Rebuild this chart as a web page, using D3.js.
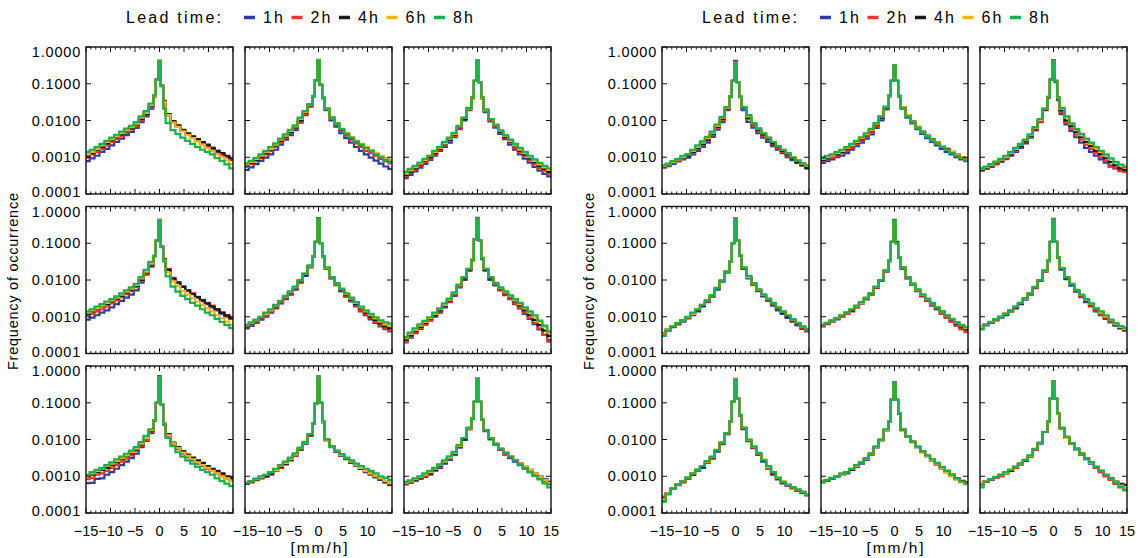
<!DOCTYPE html>
<html>
<head>
<meta charset="utf-8">
<script src="https://cdn.jsdelivr.net/npm/d3@7"></script>
<style>
  body { margin: 0; background: #fff; }
  svg { display: block; font-family: "Liberation Sans", Arial, sans-serif; }
</style>
</head>
<body>
<script>
// lead times and their colours
var leadTimes = ["1h", "2h", "4h", "6h", "8h"];
var leadColors = ["#2f3d9e", "#e5392b", "#1a1a1a", "#f6b320", "#1fae4b"];

// histogram bin edges [mm/h] (0.5 wide near zero, 1 wide in the tails)
var binEdges = [-15, -14.25, -13.25, -12.25, -11.25, -10.25, -9.25, -8.25, -7.25, -6.25, -5.25, -4.25, -3.25, -2.25,
  -1.25, -0.75, -0.25, 0.25, 0.75, 1.25,
  2.25, 3.25, 4.25, 5.25, 6.25, 7.25, 8.25, 9.25, 10.25, 11.25, 12.25, 13.25, 14.25, 15];

var xTicks = [-15, -10, -5, 0, 5, 10, 15];
var xTickLabels = ["\u221215", "\u221210", "\u22125", "0", "5", "10", "15"];
var yTicks = [1, 0.1, 0.01, 0.001, 0.0001];
var yTickLabels = ["1.0000", "0.1000", "0.0100", "0.0010", "0.0001"];

// frequency of occurrence per bin, one row per lead time (1h, 2h, 4h, 6h, 8h)
// left block
var L00 = [
  [0.00078,0.00093,0.0011,0.0014,0.0017,0.0021,0.0026,0.0032,0.004,0.0049,0.0063,0.009,0.013, 0.021,0.045,0.13,0.41,0.09,0.033,0.014, 0.0092,0.007,0.0053,0.0042,0.0035,0.0029,0.0024,0.002,0.0017,0.0014,0.0012,0.001,0.00085],
  [0.00098,0.0012,0.0014,0.0017,0.0021,0.0026,0.0031,0.0038,0.0047,0.0057,0.0072,0.01,0.014, 0.023,0.046,0.13,0.42,0.088,0.033,0.014, 0.0094,0.0072,0.0055,0.0043,0.0036,0.003,0.0025,0.0021,0.0018,0.0015,0.0012,0.001,0.00086],
  [0.0011,0.0013,0.0016,0.0019,0.0024,0.0029,0.0035,0.0042,0.0051,0.0062,0.0078,0.011,0.015, 0.025,0.047,0.13,0.42,0.088,0.034,0.015, 0.0096,0.0074,0.0056,0.0045,0.0037,0.0031,0.0026,0.0022,0.0018,0.0015,0.0013,0.0011,0.00088],
  [0.0012,0.0014,0.0017,0.0021,0.0026,0.0031,0.0037,0.0045,0.0054,0.0066,0.0082,0.012,0.016, 0.026,0.047,0.13,0.41,0.087,0.032,0.014, 0.0088,0.0067,0.0051,0.004,0.0033,0.0027,0.0022,0.0018,0.0015,0.0012,0.001,0.00082,0.00066],
  [0.0014,0.0016,0.0019,0.0023,0.0028,0.0034,0.0041,0.005,0.006,0.0072,0.009,0.013,0.018, 0.029,0.048,0.13,0.4,0.085,0.021,0.0085, 0.0055,0.0043,0.0034,0.0028,0.0023,0.0019,0.0016,0.0014,0.0012,0.00095,0.0008,0.00064,0.0005]
];
var L01 = [
  [0.00045,0.00053,0.00065,0.0008,0.00098,0.0012,0.0016,0.0022,0.003,0.004,0.0055,0.0088,0.014, 0.024,0.045,0.125,0.45,0.093,0.04,0.019, 0.01,0.0068,0.0045,0.0033,0.0025,0.0019,0.0015,0.0012,0.00098,0.00081,0.00067,0.00056,0.00048],
  [0.00055,0.00065,0.00078,0.00095,0.0012,0.0015,0.0019,0.0025,0.0034,0.0045,0.006,0.0093,0.015, 0.025,0.045,0.125,0.44,0.093,0.041,0.02, 0.011,0.0076,0.0052,0.0039,0.003,0.0024,0.0019,0.0015,0.0013,0.0011,0.0009,0.00077,0.00068],
  [0.0006,0.0007,0.00085,0.001,0.0013,0.0016,0.0021,0.0028,0.0037,0.0049,0.0065,0.01,0.016, 0.026,0.046,0.125,0.43,0.093,0.042,0.021, 0.012,0.0082,0.0057,0.0043,0.0033,0.0027,0.0022,0.0018,0.0015,0.0012,0.001,0.00088,0.00078],
  [0.00064,0.00075,0.0009,0.0011,0.0014,0.0017,0.0022,0.003,0.0039,0.0052,0.0069,0.011,0.017, 0.027,0.046,0.125,0.43,0.092,0.042,0.021, 0.012,0.0084,0.0059,0.0045,0.0035,0.0028,0.0023,0.0019,0.0016,0.0013,0.0011,0.00095,0.00085],
  [0.00068,0.0008,0.00097,0.0012,0.0015,0.0019,0.0024,0.0032,0.0042,0.0056,0.0074,0.012,0.018, 0.028,0.047,0.125,0.42,0.092,0.042,0.021, 0.012,0.0084,0.0058,0.0044,0.0034,0.0027,0.0022,0.0018,0.0015,0.0012,0.001,0.00085,0.00072]
];
var L02 = [
  [0.00027,0.00033,0.00041,0.00052,0.00066,0.00085,0.0011,0.0015,0.0019,0.0025,0.0035,0.0058,0.01, 0.019,0.04,0.12,0.42,0.11,0.04,0.017, 0.0095,0.0064,0.0043,0.0031,0.0022,0.0016,0.0012,0.00092,0.00071,0.00055,0.00043,0.00035,0.0003],
  [0.0003,0.00037,0.00046,0.00058,0.00073,0.00093,0.0012,0.0016,0.0021,0.0028,0.0038,0.0062,0.011, 0.02,0.041,0.12,0.44,0.11,0.041,0.018, 0.01,0.0069,0.0047,0.0034,0.0025,0.0018,0.0014,0.0011,0.00083,0.00065,0.00051,0.00042,0.00036],
  [0.00033,0.0004,0.0005,0.00063,0.00079,0.001,0.0013,0.0017,0.0023,0.003,0.0041,0.0066,0.011, 0.021,0.041,0.12,0.44,0.11,0.042,0.019, 0.011,0.0073,0.005,0.0036,0.0027,0.002,0.0015,0.0012,0.00093,0.00073,0.00058,0.00048,0.0004],
  [0.00036,0.00044,0.00054,0.00067,0.00084,0.0011,0.0014,0.0018,0.0024,0.0032,0.0043,0.0069,0.012, 0.021,0.042,0.12,0.43,0.11,0.042,0.019, 0.011,0.0075,0.0052,0.0038,0.0028,0.0021,0.0016,0.0013,0.001,0.0008,0.00064,0.00053,0.00045],
  [0.0004,0.00048,0.00058,0.00072,0.0009,0.0011,0.0015,0.0019,0.0026,0.0034,0.0046,0.0072,0.012, 0.022,0.043,0.12,0.42,0.11,0.043,0.02, 0.011,0.0077,0.0054,0.004,0.003,0.0023,0.0018,0.0014,0.0011,0.00088,0.0007,0.00058,0.0005]
];
var L10 = [
  [0.00083,0.00095,0.0011,0.0013,0.0015,0.0018,0.0022,0.0027,0.0033,0.004,0.0052,0.0085,0.014, 0.023,0.044,0.12,0.43,0.081,0.037,0.019, 0.011,0.0085,0.0065,0.0051,0.0041,0.0033,0.0027,0.0022,0.0018,0.0015,0.0012,0.001,0.0009],
  [0.0011,0.0012,0.0014,0.0016,0.0019,0.0023,0.0028,0.0034,0.0041,0.005,0.0064,0.0095,0.015, 0.025,0.045,0.12,0.43,0.08,0.037,0.02, 0.0115,0.0088,0.0067,0.0053,0.0043,0.0035,0.0029,0.0024,0.002,0.0016,0.0013,0.0011,0.00095],
  [0.0012,0.0014,0.0016,0.0019,0.0022,0.0026,0.0031,0.0037,0.0045,0.0055,0.0069,0.01,0.016, 0.026,0.045,0.12,0.42,0.08,0.036,0.019, 0.011,0.0085,0.0065,0.0052,0.0042,0.0034,0.0028,0.0023,0.0019,0.0016,0.0013,0.0011,0.0009],
  [0.0013,0.0015,0.0017,0.002,0.0024,0.0028,0.0033,0.004,0.0048,0.0058,0.0073,0.011,0.017, 0.028,0.045,0.12,0.42,0.079,0.034,0.016, 0.0092,0.0068,0.0051,0.004,0.0032,0.0026,0.0021,0.0017,0.0014,0.0011,0.00091,0.00074,0.0006],
  [0.0014,0.0016,0.0019,0.0022,0.0026,0.003,0.0036,0.0043,0.0052,0.0063,0.0079,0.012,0.019, 0.031,0.046,0.12,0.41,0.078,0.032,0.0125, 0.0066,0.0048,0.0037,0.003,0.0024,0.002,0.0016,0.0013,0.0011,0.00088,0.00072,0.00059,0.00049]
];
var L11 = [
  [0.00048,0.00056,0.00068,0.00084,0.001,0.0013,0.0017,0.0023,0.003,0.004,0.0055,0.0085,0.013, 0.022,0.043,0.11,0.48,0.1,0.042,0.02, 0.011,0.0072,0.0049,0.0035,0.0026,0.0019,0.0014,0.0011,0.00085,0.00068,0.00055,0.00046,0.0004],
  [0.00052,0.0006,0.00073,0.0009,0.0011,0.0014,0.0018,0.0024,0.0032,0.0043,0.0058,0.009,0.014, 0.023,0.044,0.11,0.47,0.1,0.043,0.021, 0.011,0.0075,0.0051,0.0037,0.0027,0.002,0.0015,0.0012,0.00093,0.00072,0.00058,0.00048,0.00041],
  [0.00055,0.00064,0.00077,0.00094,0.0012,0.0015,0.0019,0.0025,0.0034,0.0045,0.006,0.0093,0.014, 0.024,0.044,0.11,0.47,0.1,0.043,0.021, 0.012,0.0078,0.0054,0.0039,0.0029,0.0022,0.0017,0.0013,0.001,0.00082,0.00066,0.00055,0.00048],
  [0.00058,0.00067,0.0008,0.00098,0.0012,0.0015,0.002,0.0026,0.0035,0.0047,0.0063,0.0097,0.015, 0.024,0.044,0.11,0.46,0.1,0.043,0.021, 0.012,0.008,0.0056,0.0041,0.0031,0.0024,0.0018,0.0014,0.0011,0.0009,0.00073,0.00062,0.00056],
  [0.0006,0.0007,0.00084,0.001,0.0013,0.0016,0.0021,0.0027,0.0037,0.0049,0.0066,0.01,0.015, 0.025,0.045,0.11,0.46,0.1,0.044,0.022, 0.012,0.0082,0.0058,0.0043,0.0033,0.0025,0.0019,0.0015,0.0012,0.00097,0.0008,0.0007,0.00065]
];
var L12 = [
  [0.0002,0.00027,0.00036,0.00047,0.00061,0.00078,0.001,0.0013,0.0018,0.0025,0.0037,0.0063,0.01, 0.018,0.034,0.13,0.49,0.12,0.038,0.018, 0.01,0.0071,0.0052,0.0039,0.003,0.0022,0.0017,0.0012,0.00087,0.00063,0.00045,0.00032,0.00023],
  [0.00021,0.00028,0.00038,0.0005,0.00064,0.00082,0.0011,0.0014,0.0019,0.0026,0.0039,0.0066,0.011, 0.019,0.035,0.13,0.48,0.12,0.039,0.019, 0.011,0.0074,0.0054,0.0041,0.0031,0.0023,0.0017,0.0013,0.00093,0.00068,0.00048,0.00032,0.00021],
  [0.00024,0.00031,0.00041,0.00053,0.00068,0.00087,0.0011,0.0015,0.002,0.0028,0.0041,0.0069,0.011, 0.019,0.035,0.13,0.48,0.12,0.039,0.019, 0.011,0.0077,0.0057,0.0044,0.0034,0.0026,0.002,0.0015,0.0011,0.00082,0.00059,0.00042,0.0003],
  [0.00026,0.00034,0.00044,0.00057,0.00072,0.00092,0.0012,0.0016,0.0021,0.0029,0.0043,0.0071,0.012, 0.02,0.036,0.13,0.47,0.12,0.04,0.02, 0.012,0.0081,0.006,0.0046,0.0036,0.0028,0.0022,0.0017,0.0013,0.00097,0.00071,0.00052,0.00037],
  [0.00028,0.00037,0.00048,0.00062,0.00077,0.00097,0.0013,0.0017,0.0023,0.0031,0.0046,0.0075,0.012, 0.02,0.036,0.13,0.47,0.12,0.04,0.02, 0.012,0.0084,0.0063,0.0049,0.0038,0.003,0.0024,0.0018,0.0014,0.0011,0.00078,0.00057,0.0004]
];
var L20 = [
  [0.00065,0.00066,0.00085,0.00087,0.0011,0.0013,0.0016,0.002,0.0025,0.0031,0.0041,0.0062,0.0091, 0.015,0.032,0.1,0.52,0.09,0.026,0.012, 0.0075,0.0055,0.0041,0.0033,0.0027,0.0022,0.0019,0.0016,0.0014,0.0012,0.001,0.00088,0.00075],
  [0.00083,0.0009,0.0011,0.0012,0.0014,0.0017,0.002,0.0025,0.003,0.0037,0.0049,0.0068,0.0098, 0.016,0.032,0.1,0.51,0.09,0.026,0.013, 0.0078,0.0058,0.0044,0.0035,0.0029,0.0024,0.0021,0.0018,0.0015,0.0013,0.0011,0.00095,0.00082],
  [0.001,0.0011,0.0013,0.0015,0.0017,0.002,0.0024,0.0029,0.0035,0.0042,0.0053,0.0073,0.011, 0.017,0.033,0.1,0.51,0.09,0.027,0.014, 0.0082,0.0062,0.0048,0.0039,0.0032,0.0027,0.0023,0.0019,0.0016,0.0014,0.0012,0.001,0.0009],
  [0.001,0.0012,0.0014,0.0016,0.0019,0.0022,0.0026,0.0031,0.0037,0.0045,0.0056,0.0077,0.011, 0.018,0.033,0.1,0.5,0.09,0.026,0.013, 0.0078,0.0058,0.0044,0.0036,0.0029,0.0024,0.002,0.0017,0.0014,0.0012,0.001,0.00087,0.00075],
  [0.0011,0.0013,0.0015,0.0017,0.002,0.0024,0.0029,0.0034,0.0041,0.005,0.0062,0.0085,0.0125, 0.019,0.033,0.1,0.5,0.09,0.025,0.011, 0.0066,0.0045,0.0034,0.0027,0.0022,0.0018,0.0015,0.0013,0.0011,0.00088,0.00074,0.00063,0.00054]
];
var L21 = [
  [0.00062,0.00068,0.00078,0.00088,0.00098,0.0011,0.0014,0.0017,0.0021,0.0027,0.0036,0.0052,0.0077, 0.013,0.027,0.094,0.52,0.1,0.029,0.0095, 0.0062,0.0046,0.0036,0.0029,0.0023,0.0019,0.0016,0.0013,0.0011,0.00093,0.0008,0.00068,0.00058],
  [0.00064,0.0007,0.0008,0.0009,0.001,0.0012,0.0014,0.0017,0.0022,0.0028,0.0037,0.0054,0.008, 0.013,0.027,0.094,0.5,0.1,0.03,0.0098, 0.0063,0.0047,0.0037,0.003,0.0024,0.002,0.0016,0.0014,0.0012,0.00098,0.00084,0.00072,0.00062],
  [0.00064,0.0007,0.00081,0.00092,0.001,0.0012,0.0015,0.0018,0.0022,0.0028,0.0038,0.0055,0.008, 0.013,0.028,0.095,0.5,0.1,0.03,0.01, 0.0065,0.0048,0.0038,0.003,0.0024,0.002,0.0016,0.0014,0.0012,0.00097,0.00082,0.00069,0.00058],
  [0.00066,0.00072,0.00083,0.00095,0.0011,0.0013,0.0015,0.0019,0.0023,0.0029,0.0039,0.0057,0.0082, 0.014,0.028,0.096,0.49,0.1,0.03,0.0098, 0.0065,0.0049,0.0038,0.0031,0.0025,0.002,0.0017,0.0014,0.0012,0.001,0.00087,0.00074,0.00064],
  [0.00066,0.00074,0.00086,0.001,0.0011,0.0013,0.0016,0.002,0.0025,0.0032,0.0042,0.006,0.0086, 0.014,0.028,0.096,0.49,0.1,0.031,0.01, 0.0066,0.005,0.004,0.0032,0.0027,0.0022,0.0019,0.0016,0.0014,0.0012,0.001,0.0009,0.0008]
];
var L22 = [
  [0.0006,0.00066,0.00075,0.00085,0.00096,0.0011,0.0014,0.0017,0.0022,0.0028,0.0038,0.006,0.0098, 0.019,0.037,0.105,0.47,0.105,0.034,0.017, 0.01,0.0072,0.0052,0.0039,0.0031,0.0025,0.002,0.0016,0.0013,0.0011,0.00088,0.00073,0.00062],
  [0.00062,0.00068,0.00077,0.00088,0.001,0.0012,0.0014,0.0018,0.0023,0.0029,0.0039,0.0062,0.01, 0.019,0.037,0.105,0.47,0.105,0.035,0.018, 0.011,0.0074,0.0054,0.0041,0.0033,0.0026,0.0021,0.0017,0.0014,0.0011,0.00092,0.00077,0.00066],
  [0.00064,0.0007,0.0008,0.00092,0.0011,0.0012,0.0015,0.0019,0.0024,0.0031,0.0041,0.0065,0.01, 0.02,0.038,0.106,0.46,0.106,0.035,0.018, 0.011,0.0076,0.0056,0.0043,0.0034,0.0027,0.0022,0.0018,0.0015,0.0012,0.00098,0.00082,0.0007],
  [0.00066,0.00072,0.00083,0.00096,0.0011,0.0013,0.0016,0.002,0.0025,0.0032,0.0043,0.0067,0.011, 0.02,0.038,0.107,0.46,0.107,0.035,0.018, 0.011,0.0077,0.0057,0.0044,0.0035,0.0028,0.0022,0.0018,0.0015,0.0012,0.00095,0.00078,0.00066],
  [0.0007,0.00077,0.00088,0.001,0.0012,0.0014,0.0017,0.0021,0.0027,0.0035,0.0046,0.007,0.011, 0.021,0.039,0.108,0.45,0.108,0.035,0.018, 0.011,0.0076,0.0056,0.0043,0.0034,0.0027,0.0021,0.0017,0.0013,0.001,0.00082,0.00064,0.0005]
];
// right block
var R00 = [
  [0.00052,0.00057,0.00066,0.00077,0.00088,0.00098,0.0012,0.0015,0.0019,0.0025,0.0036,0.0056,0.009, 0.019,0.044,0.12,0.42,0.11,0.043,0.019, 0.0092,0.0064,0.0045,0.0034,0.0026,0.002,0.0016,0.0013,0.001,0.00084,0.0007,0.00061,0.00054],
  [0.00054,0.0006,0.0007,0.0008,0.00092,0.0011,0.0013,0.0017,0.0021,0.0028,0.004,0.0063,0.01, 0.02,0.045,0.12,0.41,0.11,0.044,0.021, 0.011,0.0074,0.0052,0.0039,0.003,0.0023,0.0018,0.0014,0.0011,0.00091,0.00075,0.00063,0.00055],
  [0.00055,0.00062,0.00072,0.00083,0.00096,0.0011,0.0014,0.0018,0.0023,0.003,0.0043,0.0067,0.011, 0.021,0.045,0.12,0.4,0.11,0.045,0.022, 0.012,0.0079,0.0056,0.0042,0.0032,0.0024,0.0019,0.0015,0.0012,0.00093,0.00074,0.0006,0.0005],
  [0.00057,0.00064,0.00074,0.00086,0.001,0.0012,0.0015,0.0019,0.0025,0.0033,0.0046,0.0071,0.012, 0.022,0.046,0.12,0.39,0.11,0.045,0.023, 0.013,0.0083,0.006,0.0045,0.0034,0.0026,0.002,0.0016,0.0013,0.001,0.00082,0.00067,0.00058],
  [0.0006,0.00067,0.00078,0.0009,0.0011,0.0012,0.0016,0.0021,0.0027,0.0036,0.005,0.0077,0.0125, 0.023,0.046,0.12,0.39,0.11,0.045,0.023, 0.014,0.0085,0.0061,0.0045,0.0034,0.0026,0.002,0.0016,0.0013,0.001,0.00082,0.00069,0.0006]
];
var R01 = [
  [0.0007,0.00078,0.00088,0.001,0.0011,0.0013,0.0016,0.002,0.0025,0.0032,0.0042,0.0063,0.01, 0.02,0.045,0.12,0.3,0.12,0.045,0.021, 0.012,0.0083,0.0058,0.0043,0.0033,0.0026,0.0021,0.0017,0.0014,0.0012,0.001,0.00088,0.00078],
  [0.00078,0.00087,0.00098,0.0011,0.0013,0.0015,0.0018,0.0022,0.0028,0.0036,0.0047,0.0069,0.011, 0.021,0.046,0.12,0.31,0.12,0.046,0.022, 0.013,0.0088,0.0062,0.0046,0.0036,0.0028,0.0023,0.0019,0.0016,0.0013,0.0011,0.00096,0.00085],
  [0.00085,0.00095,0.0011,0.0012,0.0014,0.0017,0.002,0.0025,0.0031,0.004,0.0052,0.0076,0.012, 0.022,0.047,0.12,0.32,0.12,0.047,0.023, 0.014,0.0095,0.0067,0.005,0.0039,0.0031,0.0025,0.002,0.0017,0.0014,0.0012,0.001,0.0009],
  [0.0009,0.001,0.0011,0.0013,0.0015,0.0018,0.0021,0.0026,0.0033,0.0042,0.0055,0.008,0.013, 0.023,0.047,0.12,0.32,0.12,0.047,0.023, 0.014,0.0093,0.0066,0.0049,0.0038,0.003,0.0024,0.002,0.0016,0.0014,0.0012,0.001,0.00088],
  [0.00095,0.0011,0.0012,0.0014,0.0016,0.0019,0.0023,0.0028,0.0035,0.0045,0.0059,0.0085,0.013, 0.024,0.048,0.12,0.32,0.12,0.046,0.022, 0.013,0.009,0.0064,0.0048,0.0037,0.0029,0.0023,0.0019,0.0016,0.0013,0.0011,0.00095,0.00082]
];
var R02 = [
  [0.00043,0.00048,0.00055,0.00064,0.00075,0.00089,0.0011,0.0014,0.0018,0.0024,0.0034,0.0054,0.009, 0.019,0.042,0.13,0.43,0.11,0.036,0.015, 0.0078,0.0052,0.0035,0.0025,0.0018,0.0014,0.0011,0.00088,0.00071,0.00059,0.0005,0.00044,0.0004],
  [0.00045,0.0005,0.00057,0.00066,0.00078,0.00093,0.0012,0.0015,0.0019,0.0026,0.0036,0.0057,0.0095, 0.02,0.043,0.13,0.42,0.115,0.038,0.017, 0.0088,0.006,0.0041,0.003,0.0022,0.0017,0.0013,0.001,0.00078,0.00055,0.0005,0.00042,0.0004],
  [0.00046,0.00052,0.0006,0.0007,0.00082,0.00098,0.0012,0.0016,0.002,0.0027,0.0038,0.006,0.0098, 0.02,0.043,0.13,0.42,0.12,0.04,0.019, 0.01,0.007,0.0048,0.0035,0.0026,0.002,0.0015,0.0012,0.00093,0.00074,0.0006,0.0005,0.00045],
  [0.00048,0.00054,0.00062,0.00073,0.00086,0.001,0.0013,0.0017,0.0022,0.0029,0.004,0.0063,0.01, 0.021,0.044,0.13,0.41,0.12,0.042,0.021, 0.012,0.0079,0.0055,0.004,0.003,0.0023,0.0018,0.0014,0.0011,0.00088,0.00071,0.0006,0.00052],
  [0.0005,0.00056,0.00065,0.00076,0.0009,0.0011,0.0014,0.0018,0.0023,0.003,0.0042,0.0066,0.011, 0.021,0.044,0.13,0.4,0.12,0.043,0.022, 0.013,0.0083,0.0058,0.0043,0.0032,0.0025,0.0019,0.0015,0.0012,0.00094,0.00075,0.00063,0.00055]
];
var R10 = [
  [0.00034,0.00042,0.00052,0.00062,0.00074,0.0009,0.0011,0.0014,0.0019,0.0025,0.0035,0.0055,0.009, 0.016,0.031,0.1,0.47,0.12,0.045,0.02, 0.011,0.0074,0.005,0.0036,0.0027,0.002,0.0015,0.0012,0.00093,0.00073,0.00058,0.00047,0.0004],
  [0.00036,0.00044,0.00054,0.00064,0.00077,0.00093,0.0012,0.0015,0.002,0.0026,0.0036,0.0057,0.0093, 0.016,0.031,0.1,0.46,0.12,0.046,0.021, 0.012,0.0077,0.0052,0.0038,0.0028,0.0021,0.0016,0.0013,0.001,0.00078,0.00062,0.0005,0.00042],
  [0.00036,0.00045,0.00055,0.00066,0.00079,0.00096,0.0012,0.0015,0.002,0.0027,0.0037,0.0058,0.0095, 0.017,0.032,0.1,0.46,0.12,0.046,0.021, 0.012,0.0078,0.0053,0.0039,0.0029,0.0022,0.0017,0.0013,0.001,0.0008,0.00064,0.00052,0.00044],
  [0.00035,0.00045,0.00056,0.00067,0.0008,0.00098,0.0012,0.0016,0.0021,0.0028,0.0038,0.006,0.0097, 0.017,0.032,0.1,0.45,0.12,0.047,0.022, 0.012,0.008,0.0055,0.004,0.003,0.0023,0.0018,0.0014,0.0011,0.00084,0.00067,0.00054,0.00045],
  [0.0003,0.00042,0.00055,0.00067,0.00081,0.001,0.0013,0.0016,0.0021,0.0028,0.0039,0.0061,0.0098, 0.017,0.032,0.1,0.45,0.12,0.047,0.022, 0.013,0.0082,0.0056,0.0041,0.0031,0.0024,0.0018,0.0014,0.0011,0.00086,0.00068,0.00055,0.00046]
];
var R11 = [
  [0.00055,0.00063,0.00073,0.00085,0.001,0.0012,0.0014,0.0018,0.0023,0.003,0.004,0.0061,0.0095, 0.017,0.032,0.11,0.43,0.1,0.04,0.02, 0.011,0.0073,0.005,0.0036,0.0027,0.002,0.0016,0.0012,0.00095,0.00075,0.0006,0.0005,0.00043],
  [0.00056,0.00064,0.00075,0.00087,0.001,0.0012,0.0015,0.0018,0.0023,0.003,0.0041,0.0062,0.0097, 0.017,0.033,0.11,0.42,0.1,0.041,0.021, 0.011,0.0074,0.0051,0.0037,0.0028,0.0021,0.0016,0.0012,0.00094,0.00072,0.00056,0.00045,0.00038],
  [0.00058,0.00066,0.00077,0.0009,0.0011,0.0013,0.0015,0.0019,0.0024,0.0031,0.0042,0.0064,0.01, 0.018,0.033,0.11,0.4,0.11,0.042,0.022, 0.012,0.0078,0.0054,0.0039,0.003,0.0023,0.0017,0.0014,0.0011,0.00083,0.00066,0.00055,0.00048],
  [0.00059,0.00067,0.00078,0.00092,0.0011,0.0013,0.0016,0.0019,0.0024,0.0032,0.0043,0.0065,0.01, 0.018,0.033,0.11,0.4,0.1,0.042,0.022, 0.012,0.0079,0.0055,0.004,0.003,0.0023,0.0018,0.0014,0.0011,0.00086,0.00069,0.00058,0.0005],
  [0.0006,0.00068,0.0008,0.00094,0.0011,0.0013,0.0016,0.002,0.0025,0.0033,0.0044,0.0066,0.01, 0.018,0.034,0.11,0.4,0.1,0.042,0.022, 0.012,0.008,0.0056,0.0041,0.0031,0.0024,0.0018,0.0014,0.0011,0.00088,0.00071,0.0006,0.00052]
];
var R12 = [
  [0.0005,0.00058,0.00068,0.0008,0.00095,0.0011,0.0014,0.0017,0.0022,0.0029,0.004,0.006,0.0095, 0.017,0.032,0.11,0.46,0.11,0.04,0.019, 0.0105,0.007,0.0048,0.0034,0.0025,0.0019,0.0014,0.0011,0.00087,0.0007,0.00057,0.00048,0.00042],
  [0.00052,0.0006,0.0007,0.00082,0.00097,0.0012,0.0014,0.0018,0.0023,0.003,0.0041,0.0062,0.0097, 0.017,0.033,0.11,0.45,0.11,0.041,0.02, 0.011,0.0073,0.005,0.0036,0.0027,0.002,0.0015,0.0012,0.00093,0.00075,0.0006,0.00049,0.00042],
  [0.00053,0.00061,0.00071,0.00084,0.001,0.0012,0.0015,0.0018,0.0023,0.0031,0.0042,0.0063,0.01, 0.018,0.033,0.11,0.45,0.11,0.041,0.02, 0.011,0.0075,0.0052,0.0038,0.0028,0.0021,0.0016,0.0013,0.00098,0.00078,0.00062,0.00051,0.00044],
  [0.00052,0.00061,0.00072,0.00085,0.001,0.0012,0.0015,0.0019,0.0024,0.0031,0.0043,0.0064,0.01, 0.018,0.033,0.11,0.44,0.11,0.042,0.021, 0.012,0.0077,0.0053,0.0039,0.0029,0.0022,0.0017,0.0013,0.001,0.0008,0.00064,0.00053,0.00046],
  [0.00045,0.0006,0.00073,0.00086,0.001,0.0012,0.0015,0.0019,0.0024,0.0032,0.0044,0.0065,0.01, 0.018,0.034,0.11,0.44,0.11,0.042,0.021, 0.012,0.0078,0.0054,0.004,0.003,0.0023,0.0017,0.0014,0.0011,0.00083,0.00067,0.00056,0.0005]
];
var R20 = [
  [0.00022,0.00033,0.00045,0.00057,0.00068,0.00085,0.0011,0.0014,0.0017,0.0023,0.003,0.0047,0.0075, 0.014,0.03,0.105,0.45,0.13,0.045,0.019, 0.009,0.0058,0.0038,0.0025,0.0016,0.0011,0.00082,0.00064,0.00055,0.00047,0.0004,0.00035,0.0003],
  [0.00028,0.00035,0.00046,0.00058,0.0007,0.00088,0.0011,0.0014,0.0018,0.0024,0.0031,0.0049,0.0078, 0.014,0.03,0.105,0.44,0.13,0.046,0.02, 0.0093,0.006,0.004,0.0026,0.0017,0.0012,0.00086,0.00066,0.00056,0.00048,0.00041,0.00036,0.00031],
  [0.00025,0.00034,0.00046,0.00059,0.00071,0.0009,0.0011,0.0015,0.0018,0.0025,0.0032,0.005,0.008, 0.015,0.031,0.107,0.43,0.13,0.046,0.02, 0.0095,0.0062,0.0041,0.0027,0.0018,0.0012,0.00088,0.00068,0.00057,0.00049,0.00042,0.00036,0.00032],
  [0.00024,0.00034,0.00047,0.0006,0.00072,0.00091,0.0012,0.0015,0.0019,0.0025,0.0033,0.0051,0.0082, 0.015,0.031,0.107,0.43,0.13,0.047,0.021, 0.0098,0.0064,0.0042,0.0028,0.0018,0.0013,0.0009,0.0007,0.00058,0.0005,0.00043,0.00037,0.00033],
  [0.0002,0.00032,0.00047,0.0006,0.00073,0.00092,0.0012,0.0015,0.0019,0.0026,0.0034,0.0052,0.0084, 0.015,0.032,0.108,0.42,0.13,0.047,0.021, 0.01,0.0065,0.0043,0.0028,0.0019,0.0013,0.00092,0.00071,0.00059,0.00051,0.00044,0.00038,0.00031]
];
var R21 = [
  [0.00068,0.00076,0.00086,0.00097,0.0011,0.0012,0.0015,0.0018,0.0022,0.0028,0.0039,0.0061,0.0095, 0.018,0.03,0.12,0.36,0.12,0.05,0.018, 0.012,0.0085,0.0062,0.0045,0.0035,0.0027,0.0021,0.0017,0.0013,0.0011,0.00085,0.00072,0.00064],
  [0.0007,0.00078,0.00088,0.001,0.0011,0.0013,0.0015,0.0019,0.0023,0.0029,0.004,0.0062,0.0097, 0.018,0.031,0.12,0.35,0.12,0.051,0.018, 0.012,0.0086,0.0062,0.0046,0.0035,0.0027,0.0021,0.0016,0.0013,0.001,0.00082,0.0007,0.00066],
  [0.0007,0.00078,0.00088,0.001,0.0011,0.0013,0.0015,0.0019,0.0023,0.003,0.0041,0.0063,0.0098, 0.018,0.031,0.12,0.35,0.12,0.051,0.019, 0.012,0.0087,0.0063,0.0047,0.0036,0.0028,0.0022,0.0017,0.0014,0.0011,0.00088,0.00075,0.00068],
  [0.0007,0.00079,0.00089,0.001,0.0011,0.0013,0.0016,0.0019,0.0024,0.003,0.0041,0.0063,0.0099, 0.018,0.031,0.12,0.35,0.12,0.052,0.019, 0.012,0.0087,0.0063,0.0047,0.0036,0.0028,0.0022,0.0017,0.0013,0.001,0.00082,0.00068,0.0006],
  [0.00071,0.0008,0.0009,0.001,0.0012,0.0013,0.0016,0.002,0.0024,0.0031,0.0042,0.0064,0.01, 0.019,0.031,0.12,0.35,0.12,0.052,0.019, 0.012,0.0088,0.0064,0.0048,0.0037,0.0029,0.0023,0.0018,0.0014,0.0011,0.00088,0.00072,0.00063]
];
var R22 = [
  [0.0006,0.0007,0.0008,0.00091,0.001,0.0012,0.0014,0.0017,0.0021,0.0026,0.0034,0.0052,0.0078, 0.016,0.03,0.13,0.38,0.13,0.05,0.02, 0.011,0.0076,0.0054,0.0039,0.0029,0.0022,0.0017,0.0013,0.001,0.00082,0.00066,0.00055,0.00048],
  [0.00062,0.00071,0.00081,0.00092,0.001,0.0012,0.0014,0.0017,0.0021,0.0027,0.0035,0.0053,0.0079, 0.016,0.03,0.13,0.37,0.13,0.05,0.02, 0.011,0.0077,0.0055,0.004,0.003,0.0023,0.0017,0.0013,0.001,0.0008,0.00062,0.0005,0.00045],
  [0.00064,0.00072,0.00082,0.00094,0.0011,0.0012,0.0014,0.0018,0.0022,0.0027,0.0036,0.0054,0.008, 0.016,0.031,0.13,0.37,0.13,0.05,0.02, 0.011,0.0078,0.0056,0.0041,0.0031,0.0024,0.0018,0.0014,0.0011,0.00088,0.00072,0.00062,0.00058],
  [0.00065,0.00073,0.00083,0.00095,0.0011,0.0012,0.0015,0.0018,0.0022,0.0028,0.0036,0.0055,0.0081, 0.016,0.031,0.13,0.37,0.13,0.05,0.02, 0.011,0.0078,0.0056,0.0041,0.0031,0.0023,0.0018,0.0014,0.0011,0.00085,0.00068,0.00056,0.00048],
  [0.0005,0.00072,0.00084,0.00096,0.0011,0.0013,0.0015,0.0018,0.0022,0.0028,0.0037,0.0056,0.0082, 0.016,0.031,0.13,0.36,0.13,0.051,0.021, 0.012,0.008,0.0057,0.0042,0.0031,0.0024,0.0018,0.0014,0.0011,0.00085,0.00066,0.00052,0.00041]
];

var blocks = [
  [[L00, L01, L02], [L10, L11, L12], [L20, L21, L22]],
  [[R00, R01, R02], [R10, R11, R12], [R20, R21, R22]]
];

// sanity check on the typed arrays
blocks.forEach(function (b) { b.forEach(function (row) { row.forEach(function (p) { p.forEach(function (s) {
  if (s.length !== binEdges.length - 1) throw new Error("bad series length " + s.length);
}); }); }); });

var width = 1139, height = 558;
var svg = d3.select("body").append("svg").attr("width", width).attr("height", height);

var pw = 147, ph = 147;
var blockShift = 576;

var x = d3.scaleLinear().domain([-15, 15]).range([0, pw]);
var y = d3.scaleLog().domain([0.0001, 1]).range([ph, 0]);

var line = d3.line()
  .x(function (d) { return x(d[0]); })
  .y(function (d) { return y(d[1]); })
  .curve(d3.curveStepAfter);

function stepPoints(vals) {
  var pts = vals.map(function (v, i) { return [binEdges[i], v]; });
  pts.push([binEdges[vals.length], vals[vals.length - 1]]);
  return pts;
}

blocks.forEach(function (grid, b) {
  var g = svg.append("g").attr("transform", "translate(" + (b * blockShift) + ",0)");

  // legend
  var leg = g.append("g").attr("font-size", "16px").attr("fill", "#000");
  leg.append("text").attr("x", 126).attr("y", 23).attr("textLength", 95)
    .attr("lengthAdjust", "spacing").text("Lead time:");
  var items = leg.selectAll("g.item").data(leadTimes).enter().append("g")
    .attr("class", "item")
    .attr("transform", function (d, i) { return "translate(" + (244 + i * 47.5) + ",0)"; });
  items.append("line").attr("x1", 0).attr("x2", 11).attr("y1", 17.5).attr("y2", 17.5)
    .attr("stroke", function (d, i) { return leadColors[i]; }).attr("stroke-width", 3.5);
  items.append("text").attr("x", 19).attr("y", 23).attr("textLength", 20)
    .attr("lengthAdjust", "spacing").text(function (d) { return d; });

  // axis titles
  g.append("text")
    .attr("transform", "translate(18,281.5) rotate(-90)")
    .attr("text-anchor", "middle").attr("font-size", "14.5px").attr("fill", "#000")
    .attr("textLength", 177).attr("lengthAdjust", "spacing")
    .text("Frequency of occurrence");
  g.append("text")
    .attr("x", 319).attr("y", 553).attr("text-anchor", "middle")
    .attr("font-size", "15.5px").attr("fill", "#000")
    .attr("textLength", 57).attr("lengthAdjust", "spacing")
    .text("[mm/h]");

  grid.forEach(function (row, r) {
    row.forEach(function (panel, c) {
      var px = 86 + c * 159, py = 47 + r * 159.5;
      var p = g.append("g").attr("transform", "translate(" + px + "," + py + ")");

      p.selectAll("path.series").data(panel).enter().append("path")
        .attr("class", "series")
        .attr("d", function (d) { return line(stepPoints(d)); })
        .attr("fill", "none")
        .attr("stroke", function (d, i) { return leadColors[i]; })
        .attr("stroke-width", 2.2)
        .attr("stroke-linejoin", "miter");

      p.append("rect").attr("width", pw).attr("height", ph)
        .attr("fill", "none").attr("stroke", "#111").attr("stroke-width", 1.4);

      // x ticks, top and bottom, minor every 1, major every 5
      var minor = x.ticks(30);
      minor.forEach(function (t) {
        var len = xTicks.indexOf(t) >= 0 ? 5 : 2.5;
        p.append("line").attr("x1", x(t)).attr("x2", x(t)).attr("y1", ph).attr("y2", ph - len)
          .attr("stroke", "#111").attr("stroke-width", 1);
        p.append("line").attr("x1", x(t)).attr("x2", x(t)).attr("y1", 0).attr("y2", len)
          .attr("stroke", "#111").attr("stroke-width", 1);
      });
      // y ticks, left and right
      yTicks.forEach(function (t) {
        p.append("line").attr("x1", 0).attr("x2", 5).attr("y1", y(t)).attr("y2", y(t))
          .attr("stroke", "#111").attr("stroke-width", 1);
        p.append("line").attr("x1", pw - 5).attr("x2", pw).attr("y1", y(t)).attr("y2", y(t))
          .attr("stroke", "#111").attr("stroke-width", 1);
      });

      if (r === 2) {
        xTicks.forEach(function (t, i) {
          if (t === 15 && c !== 2) return;
          p.append("text").attr("x", x(t)).attr("y", ph + 23)
            .attr("text-anchor", "middle").attr("font-size", "14.5px").attr("fill", "#000")
            .text(xTickLabels[i]);
        });
      }
      if (c === 0) {
        yTicks.forEach(function (t, i) {
          var cy = Math.max(5, Math.min(ph - 2, y(t)));
          p.append("text").attr("x", -5).attr("y", cy + 5)
            .attr("text-anchor", "end").attr("font-size", "14.5px").attr("fill", "#000")
            .attr("letter-spacing", "0.8px")
            .text(yTickLabels[i]);
        });
      }
    });
  });
});
</script>
</body>
</html>
